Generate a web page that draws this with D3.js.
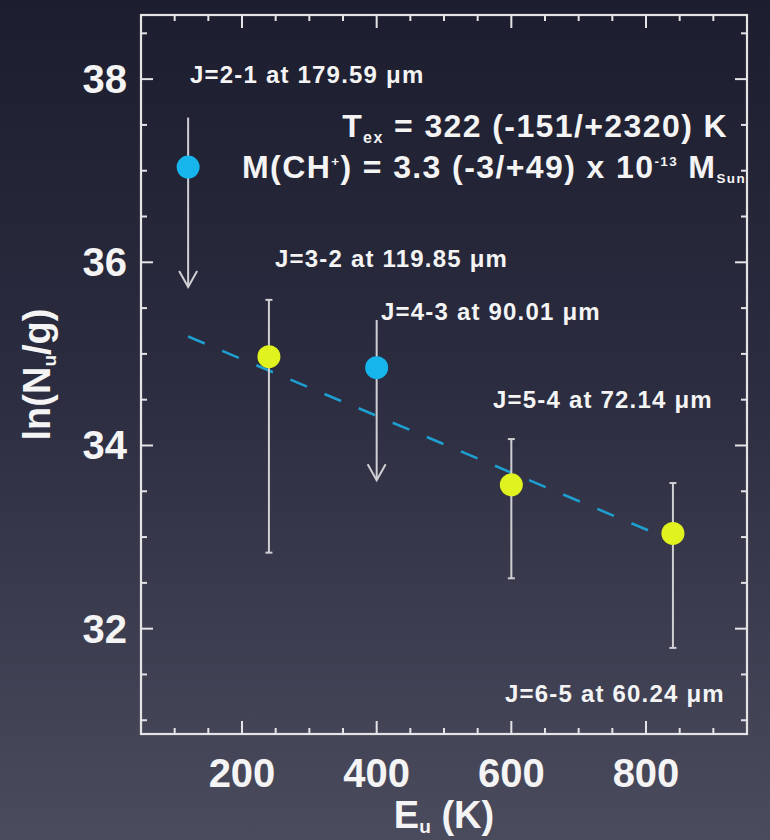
<!DOCTYPE html>
<html>
<head>
	<title>CH+ rotation diagram</title>
	<meta charset="utf-8">
	<script src="https://cdn.jsdelivr.net/npm/d3@7"></script>
	<style>
		body {
			padding: 0;
			margin: 0;
			background: #2a2b3d;
		}

		text {
			font-family: "Liberation Sans", Arial, Helvetica, sans-serif;
			fill: #f4f4f4;
		}

		.frame {
			fill: none;
			stroke: #e4e4e6;
			stroke-width: 2.2;
		}

		.tick {
			stroke: #e4e4e6;
			stroke-width: 2;
		}

		.ticklabel {
			font-size: 40px;
			font-weight: bold;
		}

		.axistitle {
			font-size: 38px;
			font-weight: bold;
		}

		.linelabel {
			font-size: 24px;
			font-weight: bold;
			letter-spacing: 1.2px;
		}

		.result {
			font-size: 32px;
			font-weight: bold;
			letter-spacing: 1.4px;
		}

		.errbar, .uplim {
			stroke: #cfcfd4;
			stroke-width: 2;
			fill: none;
		}

		.fit {
			stroke: #1e9fd0;
			stroke-width: 2.6;
			stroke-dasharray: 18, 19;
			fill: none;
		}
	</style>
</head>
<body>
	<div id="graph"></div>
	<script>
		// upper limits (blue points, arrows pointing down)
		var upE = [120, 400];
		var upLn = [37.04, 34.85];
		var upTop = [37.58, 35.37];
		var upTip = [35.73, 33.62];

		// detections (yellow points with error bars)
		var detE = [240, 600, 840];
		var detLn = [34.97, 33.57, 33.04];
		var detHi = [35.59, 34.07, 33.59];
		var detLo = [32.83, 32.55, 31.79];

		// fitted line, T_ex = 322 K
		var fitE = [120, 840];
		var fitLn = [35.19, 32.96];

		// transition labels
		var lineNames = ["J=2-1 at 179.59 \u03bcm", "J=3-2 at 119.85 \u03bcm", "J=4-3 at 90.01 \u03bcm",
			"J=5-4 at 72.14 \u03bcm", "J=6-5 at 60.24 \u03bcm"];
		var lineNameX = [190, 275, 381, 493, 505];
		var lineNameY = [83, 267, 320, 408, 702];

		var xTickLabels = [200, 400, 600, 800];
		var yTickLabels = [32, 34, 36, 38];

		var width = 770, height = 840;
		var margin = { top: 15, right: 23, bottom: 106, left: 141 };

		var svg = d3.select("#graph").append("svg")
			.attr("width", width)
			.attr("height", height);

		// dark slide background
		var grad = svg.append("defs").append("linearGradient")
			.attr("id", "bg")
			.attr("x1", 0).attr("y1", 0).attr("x2", 0).attr("y2", 1);
		grad.append("stop").attr("offset", "0%").attr("stop-color", "#1c1d2e");
		grad.append("stop").attr("offset", "45%").attr("stop-color", "#2b2c3f");
		grad.append("stop").attr("offset", "100%").attr("stop-color", "#4b4b5e");
		svg.append("rect")
			.attr("width", width)
			.attr("height", height)
			.attr("fill", "url(#bg)");

		var x = d3.scaleLinear().domain([50, 950]).range([margin.left, width - margin.right]);
		var y = d3.scaleLinear().domain([30.85, 38.7]).range([height - margin.bottom, margin.top]);

		var x0 = x.range()[0], x1 = x.range()[1];
		var y0 = y.range()[0], y1 = y.range()[1];

		// ticks on all four sides, pointing inwards
		var xt = d3.range(100, 901, 50);
		var yt = d3.range(31, 38.51, 0.5);
		var isMajX = function (v) { return xTickLabels.indexOf(v) >= 0; };
		var isMajY = function (v) { return yTickLabels.indexOf(v) >= 0; };

		var ticks = svg.append("g");
		xt.forEach(function (v) {
			var len = isMajX(v) ? 13 : 6;
			ticks.append("line").attr("class", "tick")
				.attr("x1", x(v)).attr("x2", x(v)).attr("y1", y0).attr("y2", y0 - len);
			ticks.append("line").attr("class", "tick")
				.attr("x1", x(v)).attr("x2", x(v)).attr("y1", y1).attr("y2", y1 + len);
		});
		yt.forEach(function (v) {
			var len = isMajY(v) ? 12 : 6;
			ticks.append("line").attr("class", "tick")
				.attr("x1", x0).attr("x2", x0 + len).attr("y1", y(v)).attr("y2", y(v));
			ticks.append("line").attr("class", "tick")
				.attr("x1", x1).attr("x2", x1 - len).attr("y1", y(v)).attr("y2", y(v));
		});

		svg.append("rect").attr("class", "frame")
			.attr("x", x0).attr("y", y1)
			.attr("width", x1 - x0).attr("height", y0 - y1);

		// tick labels
		svg.selectAll(".xlab").data(xTickLabels).enter().append("text")
			.attr("class", "ticklabel")
			.attr("x", function (d) { return x(d); })
			.attr("y", 787)
			.attr("text-anchor", "middle")
			.text(function (d) { return d; });

		svg.selectAll(".ylab").data(yTickLabels).enter().append("text")
			.attr("class", "ticklabel")
			.attr("x", 127)
			.attr("y", function (d) { return y(d) + 14; })
			.attr("text-anchor", "end")
			.text(function (d) { return d; });

		// axis titles
		var xt_ = svg.append("text").attr("class", "axistitle")
			.attr("x", (x0 + x1) / 2).attr("y", 828)
			.attr("text-anchor", "middle");
		xt_.append("tspan").text("E");
		xt_.append("tspan").attr("font-size", "50%").attr("dy", 5).text("u");
		xt_.append("tspan").attr("dy", -5).text(" (K)");

		var yt_ = svg.append("text").attr("class", "axistitle")
			.attr("transform", "translate(50," + (y0 + y1) / 2 + ") rotate(-90)")
			.attr("text-anchor", "middle");
		yt_.append("tspan").text("ln(N");
		yt_.append("tspan").attr("font-size", "50%").attr("dy", 6).text("u");
		yt_.append("tspan").attr("dy", -6).text("/g)");

		// fitted line
		svg.append("path").attr("class", "fit")
			.attr("d", d3.line()(fitE.map(function (e, i) { return [x(e), y(fitLn[i])]; })));

		// upper limits
		upE.forEach(function (e, i) {
			var px = x(e);
			svg.append("line").attr("class", "uplim")
				.attr("x1", px).attr("x2", px).attr("y1", y(upTop[i])).attr("y2", y(upTip[i]));
			svg.append("path").attr("class", "uplim")
				.attr("d", "M" + (px - 9) + "," + (y(upTip[i]) - 16) + "L" + px + "," + y(upTip[i]) +
					"L" + (px + 9) + "," + (y(upTip[i]) - 16));
		});

		// error bars
		detE.forEach(function (e, i) {
			var px = x(e);
			svg.append("line").attr("class", "errbar")
				.attr("x1", px).attr("x2", px).attr("y1", y(detHi[i])).attr("y2", y(detLo[i]));
			[detHi[i], detLo[i]].forEach(function (v) {
				svg.append("line").attr("class", "errbar")
					.attr("x1", px - 3.5).attr("x2", px + 3.5).attr("y1", y(v)).attr("y2", y(v));
			});
		});

		svg.selectAll(".up").data(upE).enter().append("circle")
			.attr("cx", function (d) { return x(d); })
			.attr("cy", function (d, i) { return y(upLn[i]); })
			.attr("r", 11.5)
			.attr("fill", "#16b6ec");

		svg.selectAll(".det").data(detE).enter().append("circle")
			.attr("cx", function (d) { return x(d); })
			.attr("cy", function (d, i) { return y(detLn[i]); })
			.attr("r", 11.5)
			.attr("fill", "#e1f31e");

		// transition labels
		svg.selectAll(".linelabel").data(lineNames).enter().append("text")
			.attr("class", "linelabel")
			.attr("x", function (d, i) { return lineNameX[i]; })
			.attr("y", function (d, i) { return lineNameY[i]; })
			.text(function (d) { return d; });

		// fit result
		var t1 = svg.append("text").attr("class", "result")
			.attr("x", 728).attr("y", 137).attr("text-anchor", "end");
		t1.append("tspan").text("T");
		t1.append("tspan").attr("font-size", "50%").attr("dy", 6).text("ex");
		t1.append("tspan").attr("dy", -6).text(" = 322 (-151/+2320) K");

		var t2 = svg.append("text").attr("class", "result")
			.attr("x", 746).attr("y", 178).attr("text-anchor", "end");
		t2.append("tspan").text("M(CH");
		t2.append("tspan").attr("font-size", "42%").attr("dy", -12).text("+");
		t2.append("tspan").attr("dy", 12).text(") = 3.3 (-3/+49) x 10");
		t2.append("tspan").attr("font-size", "42%").attr("dy", -12).text("-13");
		t2.append("tspan").attr("dy", 12).text(" M");
		t2.append("tspan").attr("font-size", "42%").attr("dy", 5).text("Sun");
	</script>
</body>
</html>
